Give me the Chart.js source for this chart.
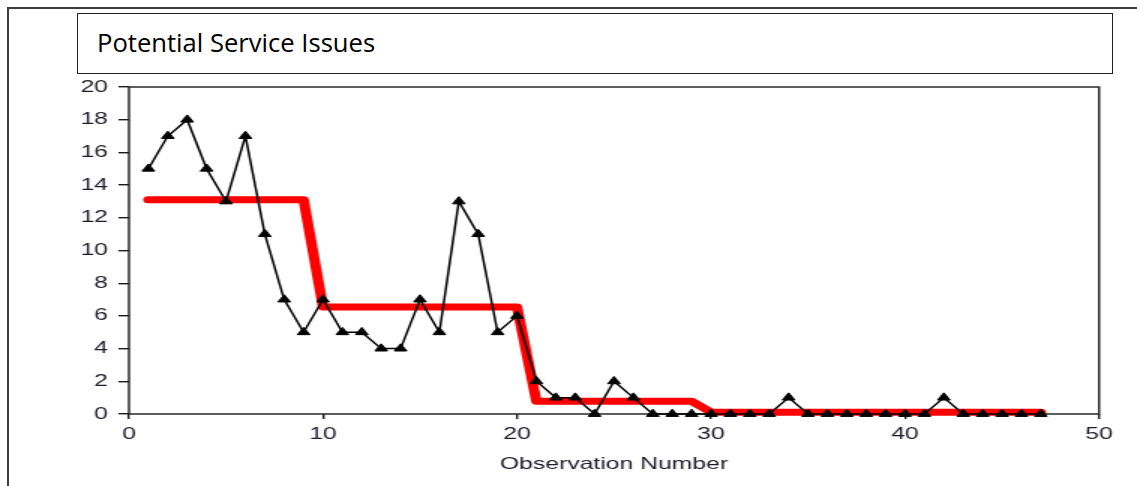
<!DOCTYPE html>
<html lang="en">
<head>
    <meta charset="UTF-8">
    <title>Potential Service Issues</title>
    <script src="https://cdn.jsdelivr.net/npm/chart.js"></script>
    <style>
        html, body { margin: 0; padding: 0; background: #fff; }
        body { position: relative; width: 1137px; height: 486px; overflow: hidden; }
        #outerFrame {
            position: absolute; left: 7px; top: 7px; width: 1300px; height: 700px;
            border: 2px solid #3c3c3c;
        }
        #titleBox {
            position: absolute; left: 77px; top: 13px; width: 1036px; height: 61px;
            border: 1.5px solid #222; box-sizing: border-box;
        }
        #titleText {
            position: absolute; left: 97px; top: 30px;
            font-family: "Open Sans", sans-serif; font-size: 25.6px; line-height: 25px; color: #000;
            white-space: nowrap;
        }
        /* the source picture is a stretched screenshot, so the chart is drawn narrow and widened */
        #chartWrap {
            position: absolute; left: 0; top: 0; width: 758px; height: 486px;
            transform: scaleX(1.5); transform-origin: 0 0;
        }
    </style>
</head>
<body>
    <div id="outerFrame"></div>
    <div id="titleBox"></div>
    <div id="titleText">Potential Service Issues</div>
    <div id="chartWrap"><canvas id="issuesChart"></canvas></div>

    <script>
        // Data
        const obsNumber = [1, 2, 3, 4, 5, 6, 7, 8, 9, 10, 11, 12, 13, 14, 15, 16, 17, 18, 19, 20,
            21, 22, 23, 24, 25, 26, 27, 28, 29, 30, 31, 32, 33, 34, 35, 36, 37, 38, 39, 40,
            41, 42, 43, 44, 45, 46, 47];
        const serviceIssues = [15, 17, 18, 15, 13, 17, 11, 7, 5, 7, 5, 5, 4, 4, 7, 5, 13, 11, 5, 6,
            2, 1, 1, 0, 2, 1, 0, 0, 0, 0, 0, 0, 0, 1, 0, 0, 0, 0, 0, 0,
            0, 1, 0, 0, 0, 0, 0];
        // stage means (red line)
        const stageMean = [13.1, 13.1, 13.1, 13.1, 13.1, 13.1, 13.1, 13.1, 13.1,
            6.55, 6.55, 6.55, 6.55, 6.55, 6.55, 6.55, 6.55, 6.55, 6.55, 6.55,
            0.78, 0.78, 0.78, 0.78, 0.78, 0.78, 0.78, 0.78, 0.78,
            0.11, 0.11, 0.11, 0.11, 0.11, 0.11, 0.11, 0.11, 0.11, 0.11, 0.11, 0.11, 0.11, 0.11, 0.11, 0.11, 0.11, 0.11];
        const xTicks = [0, 10, 20, 30, 40, 50];
        const yTicks = [0, 2, 4, 6, 8, 10, 12, 14, 16, 18, 20];

        const inkColor = '#1c1c2a';
        const tickFont = { family: '"Liberation Sans", Arial, sans-serif', size: 16.5 };

        // box around the plot area
        const plotFrame = {
            id: 'plotFrame',
            beforeDatasetsDraw(chart) {
                const { ctx, chartArea: a } = chart;
                ctx.save();
                ctx.strokeStyle = '#1a1a1a';
                ctx.lineWidth = 1.4;
                ctx.strokeRect(a.left, a.top, a.right - a.left, a.bottom - a.top);
                ctx.restore();
            }
        };

        const ctx = document.getElementById('issuesChart').getContext('2d');
        const chart = new Chart(ctx, {
            type: 'line',
            data: {
                datasets: [{
                    label: 'Service issues',
                    data: obsNumber.map((x, i) => ({ x: x, y: serviceIssues[i] })),
                    borderColor: '#000',
                    borderWidth: 1.5,
                    pointStyle: 'triangle',
                    pointRadius: 4.8,
                    pointBackgroundColor: '#000',
                    pointBorderColor: '#000',
                    pointBorderWidth: 1,
                    tension: 0,
                    clip: false,
                    order: 1
                }, {
                    label: 'Stage mean',
                    data: obsNumber.map((x, i) => ({ x: x, y: stageMean[i] })),
                    borderColor: '#ff0000',
                    borderWidth: 7,
                    borderCapStyle: 'round',
                    borderJoinStyle: 'round',
                    pointRadius: 0,
                    tension: 0,
                    clip: false,
                    order: 2
                }]
            },
            options: {
                responsive: true,
                maintainAspectRatio: false,
                animation: false,
                layout: { padding: { top: 87, right: 25.3, left: 0, bottom: 0 } },
                plugins: {
                    legend: { display: false },
                    tooltip: { enabled: false }
                },
                scales: {
                    x: {
                        type: 'linear',
                        min: xTicks[0],
                        max: xTicks[xTicks.length - 1],
                        afterBuildTicks: scale => { scale.ticks = xTicks.map(v => ({ value: v })); },
                        afterFit: scale => { scale.height = 72; },
                        border: { display: false },
                        grid: { drawOnChartArea: false, drawTicks: true, tickLength: 5, color: '#1a1a1a', lineWidth: 1.4 },
                        ticks: { font: tickFont, color: inkColor, padding: 6, maxRotation: 0 },
                        title: {
                            display: true,
                            text: 'Observation Number',
                            font: tickFont,
                            color: inkColor,
                            padding: { top: 0, bottom: 12 }
                        }
                    },
                    y: {
                        min: yTicks[0],
                        max: yTicks[yTicks.length - 1],
                        afterBuildTicks: scale => { scale.ticks = yTicks.map(v => ({ value: v })); },
                        afterFit: scale => { scale.width = 86; },
                        border: { display: false },
                        grid: { drawOnChartArea: false, drawTicks: true, tickLength: 7, color: '#1a1a1a', lineWidth: 1.4 },
                        ticks: { font: tickFont, color: inkColor, padding: 7 }
                    }
                }
            },
            plugins: [plotFrame]
        });
    </script>
</body>
</html>
